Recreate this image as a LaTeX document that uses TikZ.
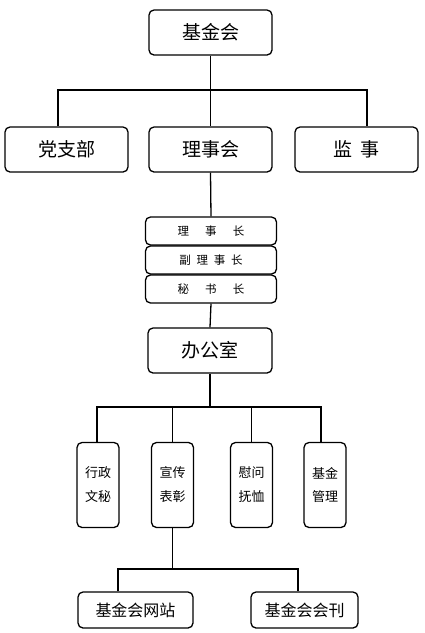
\documentclass[tikz,border=0pt]{standalone}
\usepackage{fontspec}
\setmainfont{Noto Sans CJK SC}
\begin{document}
\begin{tikzpicture}[x=1pt, y=-1pt, line width=1.3pt,
        box/.style={draw, rounded corners=5pt, inner sep=0pt, align=center},
        bigbox/.style={box, minimum width=123pt, minimum height=45pt, font=\fontsize{19}{19}\selectfont},
        rankbox/.style={box, minimum width=131pt, minimum height=28pt, font=\fontsize{11.5}{12}\selectfont},
        deptbox/.style={box, minimum width=42pt, minimum height=85pt, font=\fontsize{13}{24}\selectfont},
        pubbox/.style={box, minimum height=36pt, font=\fontsize{16}{16}\selectfont}]
    \useasboundingbox (0,0) rectangle (424,633);
    % top level
    \node[bigbox] (jjh) at (210.5,32.5) {基金会};
    \node[bigbox] (dzb) at (66.5,149.5) {党支部};
    \node[bigbox] (lsh) at (210.5,149.5) {理事会};
    \node[bigbox] (js) at (356.5,149.5) {监\hspace{0.45em}事};
    \coordinate (t1) at (58,90);
    \coordinate (t2) at (367,90);
    \draw (jjh.south) -- (lsh.north);
    \draw (dzb.north -| t1) |- (t2) -- (js.north -| t2);
    % officers
    \node[rankbox] (lsz) at (211,231) {理\hspace{1.4em}事\hspace{1.4em}长};
    \node[rankbox] (flsz) at (211,260) {副\hspace{0.5em}理\hspace{0.5em}事\hspace{0.5em}长};
    \node[rankbox] (msz) at (211,289) {秘\hspace{1.4em}书\hspace{1.4em}长};
    \draw (lsh.south) -- (lsz.north);
    \node[bigbox, minimum width=124pt] (bgs) at (210,350.5) {办公室};
    \draw (msz.south) -- (bgs.north);
    % departments
    \node[deptbox] (xz) at (98,485) {行政\\文秘};
    \node[deptbox] (xc) at (172.5,485) {宣传\\表彰};
    \node[deptbox] (ww) at (251.5,485) {慰问\\抚恤};
    \node[deptbox] (gl) at (325,485) {基金\\管理};
    \coordinate (b1) at (97,407);
    \coordinate (b2) at (321,407);
    \draw (bgs.south) -- (bgs.south |- b1);
    \draw (xz.north -| b1) |- (b2) -- (gl.north -| b2);
    \foreach \n in {xc,ww}
        \draw (\n.north) -- (\n.north |- b1);
    % publications
    \node[pubbox, minimum width=115pt] (web) at (135.5,610) {基金会网站};
    \node[pubbox, minimum width=107pt] (kan) at (304.5,610) {基金会会刊};
    \coordinate (c1) at (118,569);
    \coordinate (c2) at (298,569);
    \draw (xc.south) -- (xc.south |- c1);
    \draw (web.north -| c1) |- (c2) -- (kan.north -| c2);
\end{tikzpicture}
\end{document}
